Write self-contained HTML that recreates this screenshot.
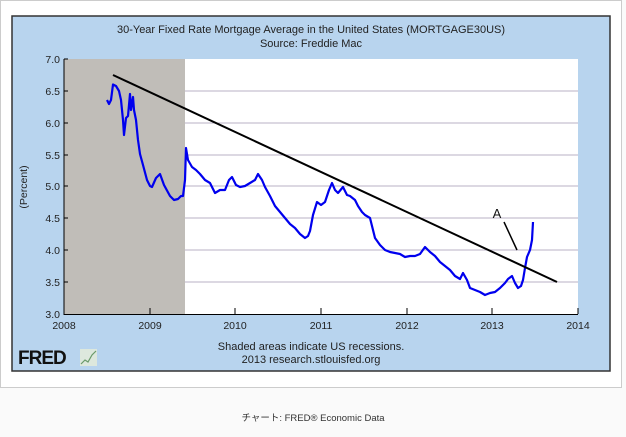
<!DOCTYPE html>
<html><head><meta charset="utf-8"><style>
body{margin:0;width:626px;height:432px;background:#fafafa;font-family:"Liberation Sans",sans-serif;overflow:hidden}
</style></head><body>
<svg width="626" height="432" xmlns="http://www.w3.org/2000/svg" font-family="Liberation Sans, sans-serif">
<rect x="0.5" y="0.5" width="621" height="387" fill="#fff" stroke="#ccc"/>
<rect x="12" y="16" width="598" height="355" fill="#b8d4ee" stroke="#333" stroke-width="1.5"/>
<text x="311" y="33" font-size="11" text-anchor="middle" fill="#222">30-Year Fixed Rate Mortgage Average in the United States (MORTGAGE30US)</text>
<text x="311" y="47" font-size="11" text-anchor="middle" fill="#222">Source: Freddie Mac</text>
<rect x="64" y="59" width="514" height="255" fill="#fff"/>
<rect x="64" y="59" width="121" height="255" fill="#c0bdb8"/>
<g stroke="#b8b0c4" stroke-width="1">
<line x1="185" y1="91" x2="578" y2="91"/><line x1="185" y1="123" x2="578" y2="123"/><line x1="185" y1="155" x2="578" y2="155"/><line x1="185" y1="186" x2="578" y2="186"/><line x1="185" y1="218" x2="578" y2="218"/><line x1="185" y1="250" x2="578" y2="250"/><line x1="185" y1="282" x2="578" y2="282"/>
</g>
<g stroke="#000" stroke-width="1">
<line x1="64" y1="59" x2="64" y2="315"/><line x1="64" y1="314.5" x2="578" y2="314.5"/>
<line x1="64" y1="59" x2="68" y2="59"/><line x1="64" y1="91" x2="68" y2="91"/><line x1="64" y1="123" x2="68" y2="123"/><line x1="64" y1="155" x2="68" y2="155"/><line x1="64" y1="186" x2="68" y2="186"/><line x1="64" y1="218" x2="68" y2="218"/><line x1="64" y1="250" x2="68" y2="250"/><line x1="64" y1="282" x2="68" y2="282"/>
<line x1="150" y1="308" x2="150" y2="314"/><line x1="235" y1="308" x2="235" y2="314"/><line x1="321" y1="308" x2="321" y2="314"/><line x1="407" y1="308" x2="407" y2="314"/><line x1="492" y1="308" x2="492" y2="314"/><line x1="578" y1="308" x2="578" y2="314"/>
</g>
<g font-size="10.5" fill="#222" text-anchor="end">
<text x="60" y="63">7.0</text><text x="60" y="95">6.5</text><text x="60" y="127">6.0</text><text x="60" y="159">5.5</text><text x="60" y="190">5.0</text><text x="60" y="222">4.5</text><text x="60" y="254">4.0</text><text x="60" y="286">3.5</text><text x="60" y="318">3.0</text>
</g>
<g font-size="10.5" fill="#222" text-anchor="middle">
<text x="64" y="329">2008</text><text x="150" y="329">2009</text><text x="235" y="329">2010</text><text x="321" y="329">2011</text><text x="407" y="329">2012</text><text x="492" y="329">2013</text><text x="578" y="329">2014</text>
</g>
<text transform="translate(27,187) rotate(-90)" font-size="10.5" fill="#222" text-anchor="middle">(Percent)</text>
<polyline fill="none" stroke="#0000ee" stroke-width="2.2" stroke-linejoin="round" points="107,100 109,104 111,100 113,84.5 116,86 119,91 121,100 123,120 124,135 126,118 128,116 130,94 131,110 133,97 134,110 136,120 138,140 140,154 143,165 147,180 150,186 152,187 156,178 160,174 164,185 170,196 174,200 178,199 181,196 183,196 185,180 186,148 188,160 192,167 196,170 200,174 205,180 210,183 215,193 220,190 225,190 229,180 232,177 236,185 240,187 245,186 250,183 255,180 258,174 262,180 265,187 270,196 275,206 280,212 285,218 290,224 295,228 300,234 305,238 308,236 310,231 313,215 317,202 321,205 325,202 329,190 332,183 335,190 338,193 343,187 347,195 350,196 355,200 358,206 362,212 365,215 370,218 373,230 375,238 380,245 385,250 390,252 395,253 400,254 405,257 410,256 415,256 420,254 425,247 430,252 435,256 440,262 445,266 450,270 455,276 460,279 463,273 467,280 470,288 475,290 480,292 485,295 490,293 495,292 500,288 505,283 508,279 512,276 515,283 518,288 521,286 523,280 525,268 527,257 530,250 532,240 533,222"/>
<line x1="113" y1="75" x2="557" y2="282" stroke="#000" stroke-width="2"/>
<line x1="504" y1="222" x2="517" y2="250" stroke="#000" stroke-width="1.5"/>
<text x="497" y="218" font-size="13" fill="#111" text-anchor="middle">A</text>
<text x="311" y="350" font-size="11" text-anchor="middle" fill="#222">Shaded areas indicate US recessions.</text>
<text x="311" y="363" font-size="11" text-anchor="middle" fill="#222">2013 research.stlouisfed.org</text>
<text x="18" y="364" font-size="19" font-weight="bold" fill="#111" letter-spacing="-1">FRED</text>
<rect x="80" y="349" width="17" height="17" fill="#dde8dd"/>
<polyline points="81,364 85,360 88,362 92,355 96,351" fill="none" stroke="#6a9a6a" stroke-width="1.2"/>
<text x="313" y="421" font-size="9.5" text-anchor="middle" fill="#333" font-family="Liberation Sans, Noto Sans CJK JP, sans-serif">チャート: FRED® Economic Data</text>
</svg>
</body></html>
